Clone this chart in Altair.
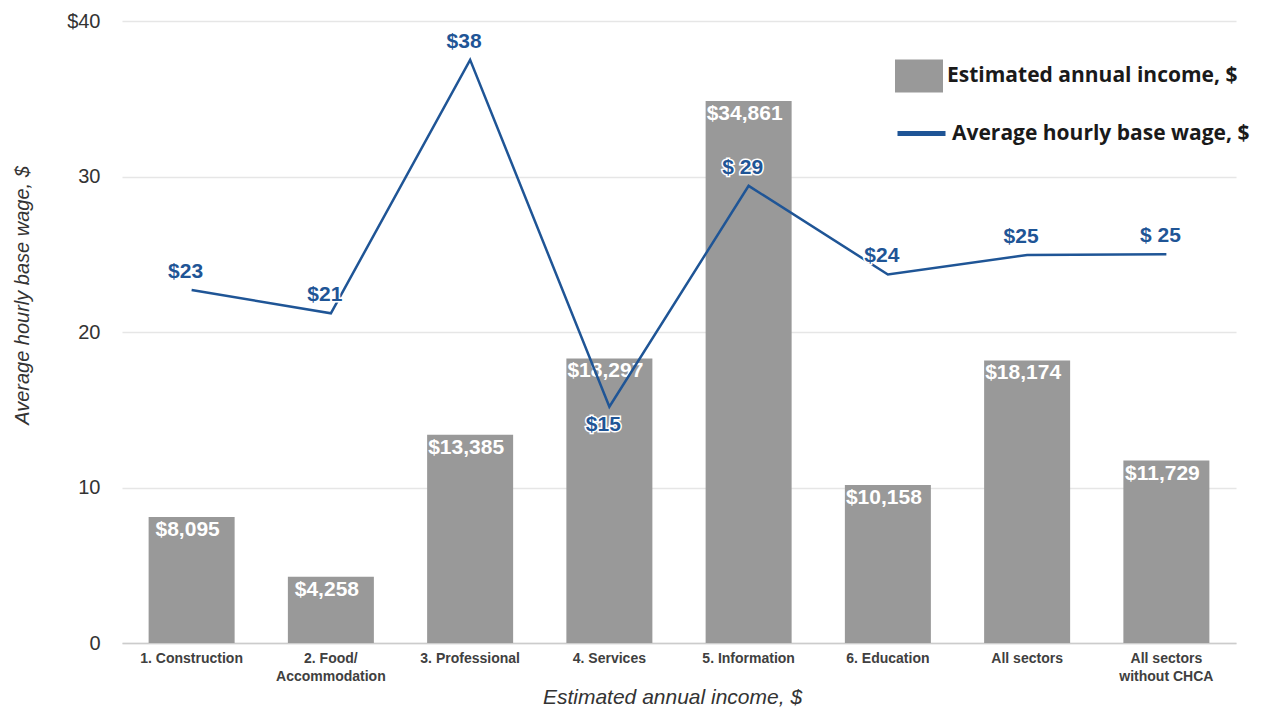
import altair as alt
import pandas as pd

categories = ["1. Construction", "2. Food/|Accommodation", "3. Professional", "4. Services",
              "5. Information", "6. Education", "All sectors", "All sectors|without CHCA"]
income = [8095, 4258, 13385, 18297, 34861, 10158, 18174, 11729]
income_labels = ["$8,095", "$4,258", "$13,385", "$18,297", "$34,861", "$10,158", "$18,174", "$11,729"]
wage = [22.7, 21.2, 37.5, 15.2, 29.4, 23.7, 24.95, 25.0]
wage_labels = ["$23", "$21", "$38", "$15", "$ 29", "$24", "$25", "$ 25"]
below_label = ["4. Services"]
y_ticks = [0, 10, 20, 30, 40]
y_tick_labels = ["0", "10", "20", "30", "$40"]

BAR_SERIES = "Estimated annual income, $"
LINE_SERIES = "Average hourly base wage, $"

df = pd.DataFrame({
    "cat": categories,
    "income_k": [v / 1000 for v in income],
    "income_label": income_labels,
    "wage": wage,
    "wage_label": wage_labels,
})

ylab_expr = "''"
for v, l in zip(y_ticks, y_tick_labels):
    ylab_expr = f"datum.value == {v} ? '{l}' : ({ylab_expr})"

x_enc = alt.X(
    "cat:N", sort=categories,
    scale=alt.Scale(paddingInner=0.38, paddingOuter=0.19),
    axis=alt.Axis(
        title="Estimated annual income, $", labelAngle=0,
        labelExpr="split(datum.label, '|')",
        labelFont="Liberation Sans", labelFontSize=14, labelFontWeight="bold",
        labelColor="#404040", labelLineHeight=18, labelPadding=8, labelBaseline="top",
        ticks=False, domain=True, domainColor="#cccccc", domainWidth=1.5,
        titleFont="Liberation Sans", titleFontSize=21, titleFontStyle="italic",
        titleFontWeight="normal", titleColor="#333333",
        titleX=550, titleY=43, titleBaseline="top", labelLimit=200,
    ),
)
y_scale = alt.Scale(domain=[0, 40], nice=False)

base = alt.Chart(df)

bars = base.transform_calculate(series=f"'{BAR_SERIES}'").mark_bar(size=86).encode(
    x=x_enc,
    y=alt.Y("income_k:Q", scale=y_scale,
            axis=alt.Axis(
                title="Average hourly base wage, $", values=y_ticks,
                labelExpr=ylab_expr, labelFont="Liberation Sans", labelFontSize=20,
                labelColor="#333333", labelPadding=22, ticks=False, domain=False,
                grid=True, gridColor="#e6e6e6", gridWidth=1.5,
                titleFont="Liberation Sans", titleFontSize=20, titleFontStyle="italic",
                titleFontWeight="normal", titleColor="#333333",
                titleX=-100, titleY=274, titleBaseline="middle", titleAngle=-90,
            )),
    color=alt.Color("series:N", scale=alt.Scale(range=["#999999"]),
                    legend=alt.Legend(
                        title=None, orient="none", legendX=773, legendY=31,
                        symbolType="M-1,-0.69L1,-0.69L1,0.69L-1,0.69Z", symbolSize=2304,
                        symbolStrokeWidth=0, symbolOpacity=1,
                        labelFont="Open Sans", labelFontSize=21, labelFontWeight="bold",
                        labelColor="#1a1a1a", labelLimit=400, labelOffset=4, padding=0)),
)

bar_text = base.mark_text(font="Liberation Sans", fontSize=21, fontWeight="bold",
                          color="white", baseline="middle", dy=13, dx=-4).encode(
    x=alt.X("cat:N", sort=categories),
    y=alt.Y("income_k:Q", scale=y_scale),
    text="income_label:N",
)

line = base.transform_calculate(series2=f"'{LINE_SERIES}'").mark_line(strokeWidth=2.5).encode(
    x=alt.X("cat:N", sort=categories),
    y=alt.Y("wage:Q", scale=y_scale),
    stroke=alt.Stroke("series2:N", scale=alt.Scale(range=["#1f5596"]),
                      legend=alt.Legend(
                          title=None, orient="none", legendX=773, legendY=86,
                          symbolType="stroke", symbolSize=2304, symbolStrokeWidth=5,
                          symbolOpacity=1,
                          labelFont="Open Sans", labelFontSize=21, labelFontWeight="bold",
                          labelColor="#1a1a1a", labelLimit=400, labelOffset=4, padding=0)),
)

cond_below = alt.FieldOneOfPredicate(field="cat", oneOf=below_label)


def wage_text(dy, keep_below, halo):
    kw = dict(font="Liberation Sans", fontSize=21, fontWeight="bold",
              baseline="middle", dy=dy, dx=-6)
    if halo:
        kw.update(color="white", stroke="white", strokeWidth=3)
    else:
        kw.update(color="#1f5596")
    ch = base.transform_filter(cond_below if keep_below else {"not": cond_below})
    return ch.mark_text(**kw).encode(
        x=alt.X("cat:N", sort=categories),
        y=alt.Y("wage:Q", scale=y_scale),
        text="wage_label:N",
    )


chart = alt.layer(
    bars, bar_text, line,
    wage_text(-18, False, True), wage_text(-18, False, False),
    wage_text(18, True, True), wage_text(18, True, False),
).properties(
    width=1114, height=622,
    background="white",
    autosize=alt.AutoSizeParams(type="none"),
    padding={"left": 122, "top": 21, "right": 29, "bottom": 65},
).configure_view(stroke=None)

chart.save("out.html", embed_options={"renderer": "svg", "actions": False})
